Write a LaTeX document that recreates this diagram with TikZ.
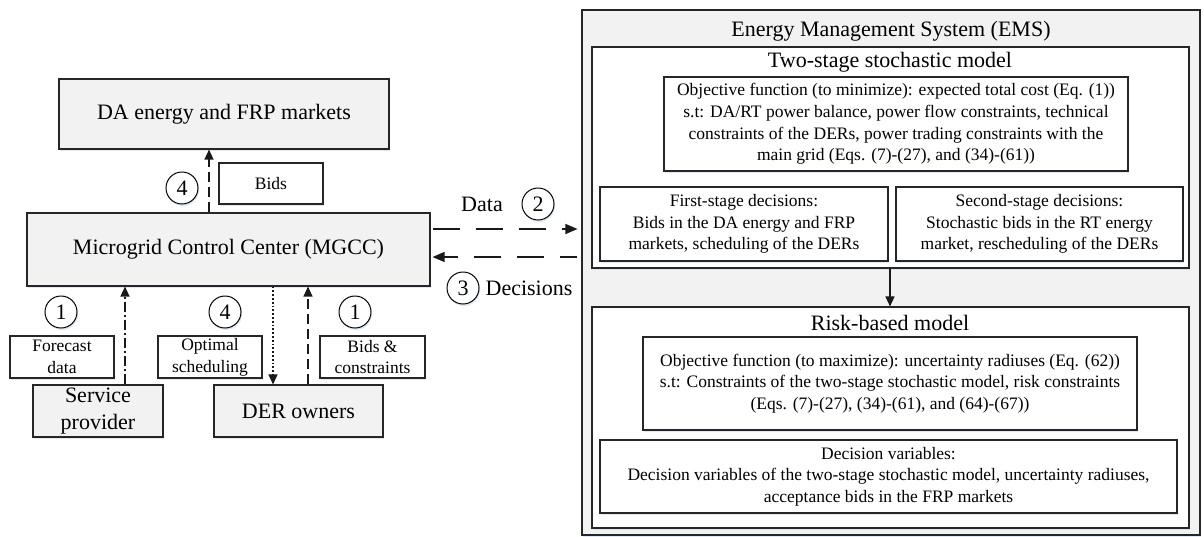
\documentclass[tikz,border=0pt]{standalone}
\usepackage{fontspec}
\setmainfont{Liberation Serif}
\usetikzlibrary{arrows.meta,shadows,calc}
\definecolor{boxgrey}{HTML}{F2F2F2}
\definecolor{shadowblue}{HTML}{CCDCF0}
\begin{document}
\begin{tikzpicture}[x=1pt,y=-1pt,
  shadowed/.style={drop shadow={shadow xshift=1.2pt, shadow yshift=-2pt, fill=shadowblue, opacity=0.6}},
  box/.style={draw=black!85, line width=1.1pt, fill=white, inner sep=0pt, align=center, shadowed},
  greybox/.style={box, fill=boxgrey},
  big/.style={font=\fontsize{22}{27}\selectfont},
  small/.style={font=\fontsize{17.5}{21.7}\selectfont},
  num/.style={circle, draw=black, line width=1pt, minimum size=32pt, inner sep=0pt, fill=white, shadowed, font=\fontsize{22}{26}\selectfont},
  conn/.style={line width=1.2pt, draw=black!90},
  tipL/.style={-{Triangle[length=12pt,width=10pt]}},
  tipS/.style={-{Triangle[length=10pt,width=9pt]}},
  longdash/.style={conn, dash pattern=on 27pt off 16pt},
  shortdash/.style={conn, dash pattern=on 10pt off 5pt},
  dashdot/.style={conn, dash pattern=on 10pt off 3pt on 2pt off 3pt},
  dotline/.style={conn, line width=1.3pt, dash pattern=on 1.8pt off 2pt},
]
\useasboundingbox (0,0) rectangle (1204,536);

% ---------- left part ----------
\node[greybox, big, minimum width=330pt, minimum height=70pt] (da) at (224,114) {DA energy and FRP markets};
\node[greybox, big, minimum width=403pt, minimum height=73pt] (mgcc) at (228.5,249.5) {Microgrid Control Center (MGCC)};
\node[box, small, minimum width=104pt, minimum height=41pt] (bids) at (271,183.5) {Bids};
\node[num] (c4a) at (182,188) {4};

\node[box, small, minimum width=104pt, minimum height=42pt] (fore) at (62,357) {Forecast\\data};
\node[box, small, minimum width=104pt, minimum height=42pt] (opt) at (210,357) {Optimal\\scheduling};
\node[box, small, minimum width=105pt, minimum height=42pt] (bidc) at (372.5,357) {Bids \&\\constraints};
\node[greybox, font=\fontsize{22}{27}\selectfont, minimum width=130pt, minimum height=52pt] (sp) at (98,411) {Service\\provider};
\node[greybox, big, minimum width=169pt, minimum height=52pt] (der) at (298.5,411) {DER owners};
\node[num] (c1a) at (61,312) {1};
\node[num] (c4b) at (225,312) {4};
\node[num] (c1b) at (355,312) {1};

% ---------- EMS ----------
\node[greybox, minimum width=618pt, minimum height=525pt] (ems) at (891,272.5) {};
\node[big, inner sep=0pt] (emst) at (891,31) {Energy Management System (EMS)};
\node[box, minimum width=597pt, minimum height=221pt] (two) at (890.5,157.5) {};
\node[big, inner sep=0pt] (twot) at (890,62) {Two-stage stochastic model};
\node[box, small, minimum width=464pt, minimum height=94pt] (obj1) at (896,124)
  {Objective function (to minimize): expected total cost (Eq. (1))\\
   s.t: DA/RT power balance, power flow constraints, technical\\
   constraints of the DERs, power trading constraints with the\\
   main grid (Eqs. (7)-(27), and (34)-(61))};
\node[box, small, minimum width=288pt, minimum height=74pt] (first) at (744,224)
  {First-stage decisions:\\Bids in the DA energy and FRP\\markets, scheduling of the DERs};
\node[box, small, minimum width=287pt, minimum height=74pt] (second) at (1039.5,224)
  {Second-stage decisions:\\Stochastic bids in the RT energy\\market, rescheduling of the DERs};

\node[box, minimum width=597pt, minimum height=221pt] (risk) at (890.5,417.5) {};
\node[big, inner sep=0pt] (riskt) at (890,323) {Risk-based model};
\node[box, small, minimum width=494pt, minimum height=93pt] (obj2) at (890,383.5)
  {Objective function (to maximize): uncertainty radiuses (Eq. (62))\\
   s.t: Constraints of the two-stage stochastic model, risk constraints\\
   (Eqs. (7)-(27), (34)-(61), and (64)-(67))};
\node[box, small, minimum width=577pt, minimum height=73pt] (dec) at (888.5,476.5)
  {Decision variables:\\
   Decision variables of the two-stage stochastic model, uncertainty radiuses,\\
   acceptance bids in the FRP markets};

% ---------- labels ----------
\node[big, inner sep=0pt] (data) at (482,204) {Data};
\node[num] (c2) at (538,204) {2};
\node[num] (c3) at (463,288) {3};
\node[big, inner sep=0pt] (decis) at (529,288) {Decisions};

% ---------- connectors ----------
\draw[shortdash, tipS] (209,0 |- mgcc.north) -- (209,0 |- da.south);
\draw[dashdot, tipS] (125,0 |- sp.north) -- (125,0 |- mgcc.south);
\draw[dotline, tipS] (273,0 |- mgcc.south) -- (273,0 |- der.north);
\draw[shortdash, tipS] (308,0 |- der.north) -- (308,0 |- mgcc.south);
\draw[longdash, tipL, shorten <=2pt, shorten >=4pt] (mgcc.east |- 0,229) -- (ems.west |- 0,229);
\draw[longdash, tipL, shorten <=4pt, shorten >=2pt, dash phase=10pt] (ems.west |- 0,257) -- (mgcc.east |- 0,257);
\draw[conn, tipS] (two.south -| 890,0) -- (risk.north -| 890,0);
\end{tikzpicture}
\end{document}
